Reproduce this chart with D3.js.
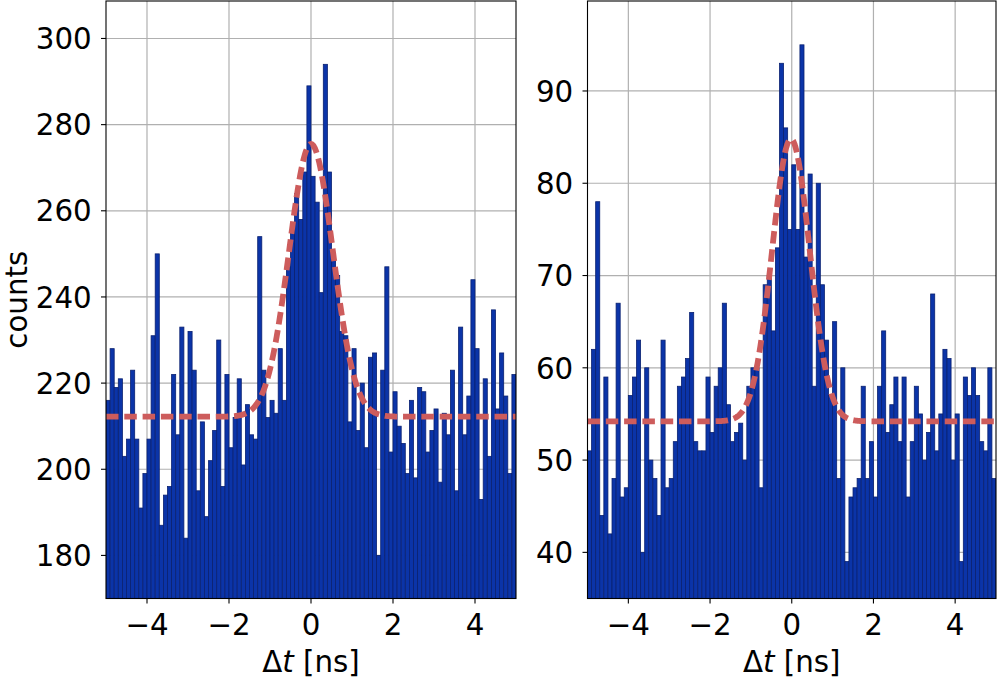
<!DOCTYPE html>
<html>
<head>
<meta charset="utf-8">
<script src="https://cdn.jsdelivr.net/npm/d3@7"></script>
<style>
  html, body { margin: 0; padding: 0; background: #ffffff; }
  svg { display: block; }
  text { font-family: "DejaVu Sans", sans-serif; fill: #000; }
</style>
</head>
<body>
<svg id="chart" width="997" height="685"></svg>
<script>
// ---- data ----
// histogram bins: 100 bins of 0.1 ns from -5 to 5 ns
const binStart = -5;
const binWidth = 0.1;

const leftCounts = [
  216, 228, 219, 221, 203, 207, 223, 207, 191, 199,
  207, 231, 250, 187, 194, 196, 222, 208, 233, 184,
  232, 223, 195, 211, 189, 202, 209, 230, 196, 222,
  205, 212, 221, 201, 215, 208, 207, 254, 223, 212,
  216, 213, 228, 216, 247, 256, 264, 258, 269, 289,
  268, 262, 241, 294, 269, 249, 245, 232, 231, 211,
  228, 209, 220, 205, 226, 227, 180, 223, 247, 204,
  218, 210, 206, 199, 216, 198, 219, 218, 204, 209,
  214, 197, 213, 208, 223, 195, 233, 208, 217, 244,
  228, 193, 221, 203, 237, 214, 227, 217, 199, 222
];

const rightCounts = [
  51, 62, 78, 44, 59, 42, 48, 67, 46, 47,
  57, 59, 63, 40, 60, 50, 48, 44, 63, 47,
  48, 52, 58, 59, 61, 66, 52, 51, 51, 59,
  53, 58, 60, 67, 56, 52, 53, 54, 50, 58,
  60, 60, 47, 69, 70, 64, 73, 93, 86, 75,
  82, 75, 95, 72, 81, 58, 80, 69, 63, 57,
  65, 48, 60, 39, 46, 47, 48, 58, 48, 52,
  46, 58, 64, 53, 56, 59, 52, 59, 46, 52,
  58, 55, 50, 53, 68, 51, 55, 62, 61, 50,
  55, 39, 59, 57, 60, 57, 52, 51, 60, 48
];

// Gaussian fit parameters (baseline, amplitude, centre, sigma)
const leftFit  = { base: 212.2, amp: 63.3, mu: 0.0,   sigma: 0.535 };
const rightFit = { base: 54.2,  amp: 30.6, mu: -0.02, sigma: 0.46 };

const xTicks = [-4, -2, 0, 2, 4];
const leftYTicks = [180, 200, 220, 240, 260, 280, 300];
const rightYTicks = [40, 50, 60, 70, 80, 90];
const leftYDomain = [170, 308.7];
const rightYDomain = [35, 99.75];
const xDomain = [-5, 5];

// ---- drawing ----
const svg = d3.select("#chart");
const FONT = 29.3;

function panel(opts) {
  const { x0, x1, y0, y1, counts, fit, yTicks, yDomain, showYLabel, id } = opts;
  const g = svg.append("g");
  const x = d3.scaleLinear().domain(xDomain).range([x0, x1]);
  const y = d3.scaleLinear().domain(yDomain).range([y1, y0]);

  g.append("clipPath").attr("id", "clip" + id)
    .append("rect").attr("x", x0).attr("y", y0).attr("width", x1 - x0).attr("height", y1 - y0);

  // grid (below bars)
  g.append("g").selectAll("line.vg").data(xTicks).join("line")
    .attr("x1", d => x(d)).attr("x2", d => x(d))
    .attr("y1", y0).attr("y2", y1)
    .attr("stroke", "#b0b0b0").attr("stroke-width", 1.2);
  g.append("g").selectAll("line.hg").data(yTicks).join("line")
    .attr("x1", x0).attr("x2", x1)
    .attr("y1", d => y(d)).attr("y2", d => y(d))
    .attr("stroke", "#b0b0b0").attr("stroke-width", 1.2);

  // bars
  const bins = counts.map((c, i) => ({ left: binStart + i * binWidth, right: binStart + (i + 1) * binWidth, c }));
  g.append("g").attr("clip-path", `url(#clip${id})`)
    .selectAll("rect").data(bins).join("rect")
    .attr("x", d => x(d.left))
    .attr("width", d => x(d.right) - x(d.left))
    .attr("y", d => y(d.c))
    .attr("height", d => y1 - y(d.c) + 2)
    .attr("fill", "#0b34a8")
    .attr("stroke", "#0a2170")
    .attr("stroke-width", 0.8);

  // fit curve
  const xs = d3.range(0, 1001).map(i => xDomain[0] + i * (xDomain[1] - xDomain[0]) / 1000);
  const line = d3.line()
    .x(d => x(d))
    .y(d => y(fit.base + fit.amp * Math.exp(-((d - fit.mu) ** 2) / (2 * fit.sigma ** 2))));
  g.append("path").datum(xs)
    .attr("clip-path", `url(#clip${id})`)
    .attr("d", line)
    .attr("fill", "none")
    .attr("stroke", "#cd5c5c")
    .attr("stroke-width", 5.8)
    .attr("stroke-dasharray", "12.5,5.8");

  // frame
  g.append("rect").attr("x", x0).attr("y", y0).attr("width", x1 - x0).attr("height", y1 - y0)
    .attr("fill", "none").attr("stroke", "#000").attr("stroke-width", 1.1);

  // x ticks
  const xt = g.append("g");
  xt.selectAll("line").data(xTicks).join("line")
    .attr("x1", d => x(d)).attr("x2", d => x(d))
    .attr("y1", y1).attr("y2", y1 + 5)
    .attr("stroke", "#000").attr("stroke-width", 1.1);
  xt.selectAll("text").data(xTicks).join("text")
    .attr("x", d => x(d)).attr("y", y1 + 36.5)
    .attr("text-anchor", "middle")
    .attr("font-size", FONT)
    .text(d => d < 0 ? "\u2212" + Math.abs(d) : String(d));

  // y ticks
  const yt = g.append("g");
  yt.selectAll("line").data(yTicks).join("line")
    .attr("x1", x0 - 5).attr("x2", x0)
    .attr("y1", d => y(d)).attr("y2", d => y(d))
    .attr("stroke", "#000").attr("stroke-width", 1.1);
  yt.selectAll("text").data(yTicks).join("text")
    .attr("x", x0 - 14.3).attr("y", d => y(d) + 10.7)
    .attr("text-anchor", "end")
    .attr("font-size", FONT)
    .text(d => String(d));

  // x label
  const xl = g.append("text")
    .attr("x", (x0 + x1) / 2).attr("y", 672)
    .attr("text-anchor", "middle")
    .attr("font-size", FONT);
  xl.append("tspan").text("\u0394");
  xl.append("tspan").attr("font-style", "italic").text("t");
  xl.append("tspan").text(" [ns]");

  if (showYLabel) {
    g.append("text")
      .attr("transform", `translate(27, ${(y0 + y1) / 2}) rotate(-90)`)
      .attr("text-anchor", "middle")
      .attr("font-size", FONT)
      .text("counts");
  }
}

panel({ id: "L", x0: 106, x1: 516, y0: 1, y1: 598.5, counts: leftCounts, fit: leftFit,
        yTicks: leftYTicks, yDomain: leftYDomain, showYLabel: true });
panel({ id: "R", x0: 587.5, x1: 996, y0: 1, y1: 598.5, counts: rightCounts, fit: rightFit,
        yTicks: rightYTicks, yDomain: rightYDomain, showYLabel: false });
</script>
</body>
</html>
